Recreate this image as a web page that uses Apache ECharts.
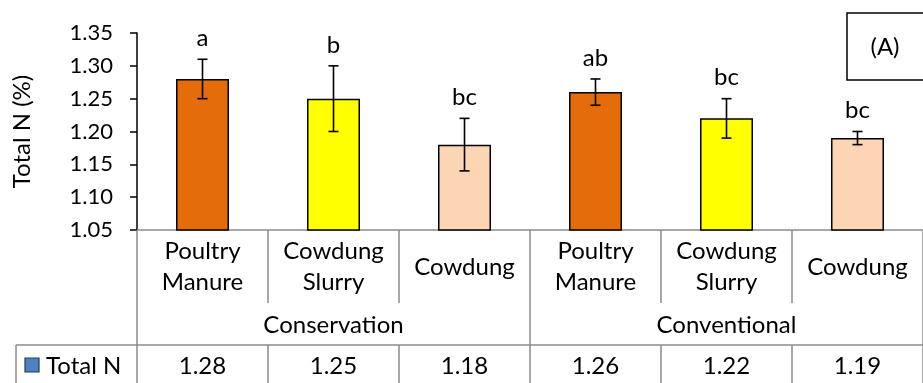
<!DOCTYPE html>
<html>
<head>
<meta charset="utf-8">
<script src="https://cdn.jsdelivr.net/npm/echarts@6/dist/echarts.min.js"></script>
<style>
html,body{margin:0;padding:0;background:#fff;}
#chart{width:923px;height:383px;}
</style>
</head>
<body>
<div id="chart"></div>
<script>
var categories = ['Poultry\nManure', 'Cowdung\nSlurry', 'Cowdung', 'Poultry\nManure', 'Cowdung\nSlurry', 'Cowdung'];
var groups = ['Conservation', 'Conventional'];
var values = [1.28, 1.25, 1.18, 1.26, 1.22, 1.19];
var errors = [0.03, 0.05, 0.04, 0.02, 0.03, 0.01];
var letters = ['a', 'b', 'bc', 'ab', 'bc', 'bc'];
var barColors = ['#E46C0A', '#FFFF00', '#FCD5B5', '#E46C0A', '#FFFF00', '#FCD5B5'];
var yTicks = { min: 1.05, max: 1.35, interval: 0.05 };

var FONT = 'Lato';
var GRAY = '#8c8c8c';
var FS = 24;

var chart = echarts.init(document.getElementById('chart'));

var barData = values.map(function (v, i) {
  return { value: v, itemStyle: { color: barColors[i] } };
});
var errData = values.map(function (v, i) {
  return [i, v - errors[i], v + errors[i]];
});

chart.setOption({
  animation: false,
  grid: { left: 137, top: 33, width: 789, bottom: 153, containLabel: false },
  xAxis: [
    {
      type: 'category', data: categories, position: 'bottom',
      axisLine: { show: true, lineStyle: { color: GRAY, width: 1.5 } },
      axisTick: { show: true, length: 73, lineStyle: { color: GRAY, width: 1.5 } },
      axisLabel: {
        interval: 0, color: '#000', fontFamily: FONT, fontSize: FS, lineHeight: 31, margin: 6,
        formatter: function (v) { return v.indexOf('\n') < 0 ? '{s|' + v + '}' : v; },
        rich: { s: { color: '#000', fontFamily: FONT, fontSize: FS, lineHeight: 62 } }
      }
    },
    {
      type: 'category', data: groups, position: 'bottom', offset: 0,
      axisLine: { show: false },
      axisTick: { show: true, length: 115, lineStyle: { color: GRAY, width: 1.5 } },
      axisLabel: { interval: 0, color: '#000', fontFamily: FONT, fontSize: FS, margin: 83 }
    },
    {
      type: 'category', data: categories, position: 'bottom', offset: 115,
      axisLine: { show: true, lineStyle: { color: GRAY, width: 1.5 } },
      axisTick: { show: true, length: 45, lineStyle: { color: GRAY, width: 1.5 } },
      axisLabel: {
        interval: 0, color: '#000', fontFamily: FONT, fontSize: FS, margin: 9,
        formatter: function (v, i) { return values[i].toFixed(2); }
      }
    }
  ],
  yAxis: {
    type: 'value', min: yTicks.min, max: yTicks.max, interval: yTicks.interval,
    name: 'Total N (%)', nameLocation: 'middle', nameGap: 103,
    nameTextStyle: { color: '#000', fontFamily: FONT, fontSize: FS },
    axisLine: { show: true, lineStyle: { color: '#000', width: 1.5 } },
    axisTick: { show: true, length: 7, lineStyle: { color: '#000', width: 1.5 } },
    splitLine: { show: false },
    axisLabel: {
      color: '#000', fontFamily: FONT, fontSize: 22, margin: 24,
      formatter: function (v) { return v.toFixed(2); }
    }
  },
  series: [
    {
      type: 'bar', data: barData, barWidth: 53, xAxisIndex: 0,
      itemStyle: { borderColor: '#000', borderWidth: 1.5 }
    },
    {
      type: 'custom', xAxisIndex: 0, data: errData, z: 5,
      renderItem: function (params, api) {
        var idx = params.dataIndex;
        var x = api.value(0);
        var top = api.coord([x, api.value(2)]);
        var bot = api.coord([x, api.value(1)]);
        var hw = 5;
        var st = { stroke: '#000', lineWidth: 1.6 };
        return {
          type: 'group', children: [
            { type: 'line', shape: { x1: top[0], y1: top[1], x2: bot[0], y2: bot[1] }, style: st },
            { type: 'line', shape: { x1: top[0] - hw, y1: top[1], x2: top[0] + hw, y2: top[1] }, style: st },
            { type: 'line', shape: { x1: bot[0] - hw, y1: bot[1], x2: bot[0] + hw, y2: bot[1] }, style: st },
            { type: 'text', x: top[0], y: top[1] - 21,
              style: { text: letters[idx], fill: '#000', font: FS + 'px ' + FONT, align: 'center', verticalAlign: 'middle' } }
          ]
        };
      }
    }
  ],
  graphic: [
    { type: 'rect', shape: { x: 847, y: 13, width: 90, height: 67 }, style: { fill: '#fff', stroke: '#000', lineWidth: 1.5 } },
    { type: 'text', x: 885, y: 47, style: { text: '(A)', fill: '#000', font: FS + 'px ' + FONT, align: 'center', verticalAlign: 'middle' } },
    { type: 'line', shape: { x1: 16, y1: 345, x2: 137, y2: 345 }, style: { stroke: GRAY, lineWidth: 1.5 } },
    { type: 'line', shape: { x1: 16, y1: 345, x2: 16, y2: 390 }, style: { stroke: GRAY, lineWidth: 1.5 } },
    { type: 'rect', shape: { x: 25, y: 358, width: 14, height: 14 }, style: { fill: '#4F81BD', stroke: '#1f3c63', lineWidth: 1.2 } },
    { type: 'text', x: 46, y: 366, style: { text: 'Total N', fill: '#000', font: FS + 'px ' + FONT, align: 'left', verticalAlign: 'middle' } }
  ]
});
</script>
</body>
</html>
